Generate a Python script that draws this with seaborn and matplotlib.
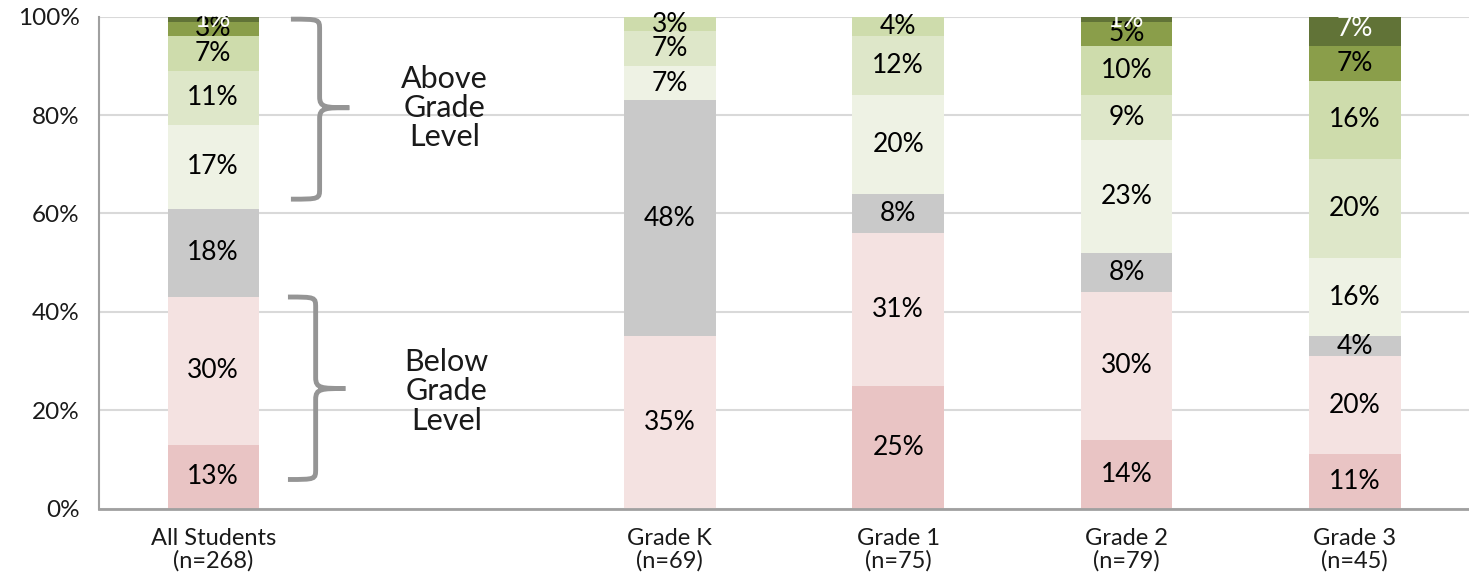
import numpy as np
import pandas as pd
import matplotlib
matplotlib.use("Agg")
import matplotlib.pyplot as plt
from matplotlib.path import Path
from matplotlib.patches import PathPatch
import seaborn as sns

# Reading-level bands, bottom to top
levels = ["2 Below", "1 Below", "On Level", "1 Above", "2 Above", "3 Above", "4 Above", "5 Above"]
categories = ["All Students\n(n=268)", "", "Grade K\n(n=69)", "Grade 1\n(n=75)",
              "Grade 2\n(n=79)", "Grade 3\n(n=45)"]

all_students = [13, 30, 18, 17, 11, 7, 3, 1]
spacer = [0, 0, 0, 0, 0, 0, 0, 0]
grade_k = [0, 35, 48, 7, 7, 3, 0, 0]
grade_1 = [25, 31, 8, 20, 12, 4, 0, 0]
grade_2 = [14, 30, 8, 23, 9, 10, 5, 1]
grade_3 = [11, 20, 4, 16, 20, 16, 7, 7]

colors = ["#e9c4c4", "#f4e2e1", "#c9c9c9", "#eef2e4", "#dee7c9", "#cedcac", "#8a9e4a", "#617337"]
label_colors = ["black"] * 7 + ["white"]

y_ticks = [0, 20, 40, 60, 80, 100]

sns.set_theme(style="white")
plt.rcParams["font.family"] = ["Lato", "DejaVu Sans"]

values = np.array([all_students, spacer, grade_k, grade_1, grade_2, grade_3], dtype=float)
df = pd.DataFrame(values, columns=levels)
df.insert(0, "group", categories)
cum = df[levels].cumsum(axis=1)

W, H = 1469, 582
left_px, top_px, bottom_px, step_px = 99, 16.7, 508.5, 230.8

fig = plt.figure(figsize=(W / 100, H / 100), dpi=100)
ax = fig.add_axes([left_px / W, (H - bottom_px) / H, 1 - left_px / W, (bottom_px - top_px) / H])

# Draw cumulative totals from the top band down so each band covers the one above it
for i in range(len(levels) - 1, -1, -1):
    plot_df = pd.DataFrame({"group": categories, "total": cum[levels[i]].values})
    sns.barplot(data=plot_df, x="group", y="total", order=categories, color=colors[i],
                width=0.4, linewidth=0, saturation=1, ax=ax, zorder=3)

# Percent labels centred in each band
for j in range(len(categories)):
    start = 0.0
    for i, lev in enumerate(levels):
        v = values[j, i]
        if v > 0:
            ax.text(j, start + v / 2, f"{int(v)}%", ha="center", va="center",
                    fontsize=19, color=label_colors[i], zorder=5)
        start += v

ax.set_xlim(-0.5, (W - left_px) / step_px - 0.5)
ax.set_ylim(0, 100)
ax.set_yticks(y_ticks)
ax.set_yticklabels([f"{t}%" for t in y_ticks], fontsize=17.5, color="#1a1a1a")
ax.set_xlabel("")
ax.set_ylabel("")
ax.tick_params(axis="x", which="major", length=0, labelsize=17, pad=14, labelcolor="#1a1a1a")
ax.set_xticks(np.arange(-0.5, 6.0, 1.0), minor=True)
ax.tick_params(axis="x", which="minor", length=8, width=1.2, color="#a0a0a0", direction="out")
ax.tick_params(axis="y", length=8, width=1.2, color="#a0a0a0", direction="out", pad=6)
for lbl in ax.get_xticklabels():
    lbl.set_linespacing(1.05)
ax.yaxis.grid(True, color="#d9d9d9", linewidth=1.5, zorder=0)
ax.set_axisbelow(True)
for s in ["top", "right"]:
    ax.spines[s].set_visible(False)
ax.spines["left"].set_color("#a0a0a0")
ax.spines["left"].set_linewidth(1.5)
ax.spines["bottom"].set_color("#a0a0a0")
ax.spines["bottom"].set_linewidth(2.0)
ax.spines["bottom"].set_zorder(6)


def brace(ax, x_end, x_spine, x_tip, y_top, y_bot, y_mid):
    r = 2.2
    verts = [
        (x_end, y_top),
        (x_spine, y_top), (x_spine, y_top), (x_spine, y_top - r),
        (x_spine, y_mid + r),
        (x_spine, y_mid), (x_spine + (x_tip - x_spine) * 0.2, y_mid), (x_tip, y_mid),
        (x_spine + (x_tip - x_spine) * 0.2, y_mid), (x_spine, y_mid), (x_spine, y_mid - r),
        (x_spine, y_bot + r),
        (x_spine, y_bot), (x_spine, y_bot), (x_end, y_bot),
    ]
    codes = [Path.MOVETO,
             Path.CURVE4, Path.CURVE4, Path.CURVE4,
             Path.LINETO,
             Path.CURVE4, Path.CURVE4, Path.CURVE4,
             Path.CURVE4, Path.CURVE4, Path.CURVE4,
             Path.LINETO,
             Path.CURVE4, Path.CURVE4, Path.CURVE4]
    ax.add_patch(PathPatch(Path(verts, codes), facecolor="none", edgecolor="#959595",
                           linewidth=3.5, capstyle="butt", zorder=4, clip_on=False))


def px_to_x(px):
    return (px - left_px) / step_px - 0.5


brace(ax, px_to_x(293), px_to_x(322), px_to_x(352), 99.5, 62.9, 81.5)
brace(ax, px_to_x(290), px_to_x(318), px_to_x(348), 43.0, 5.9, 24.4)

ax.text(px_to_x(448), 81.5, "Above\nGrade\nLevel", ha="center", va="center", fontsize=22,
        linespacing=1.05, color="#1a1a1a", zorder=5)
ax.text(px_to_x(450), 23.8, "Below\nGrade\nLevel", ha="center", va="center", fontsize=22,
        linespacing=1.05, color="#1a1a1a", zorder=5)

fig.savefig("out.png", dpi=100)
